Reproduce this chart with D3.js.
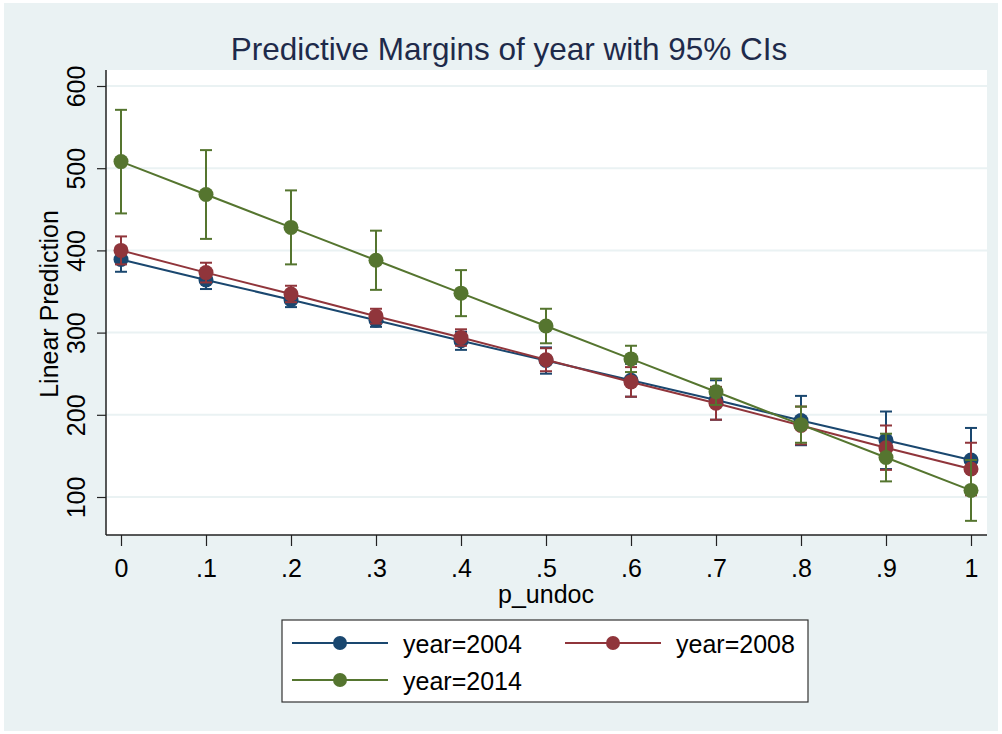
<!DOCTYPE html>
<html>
<head>
<meta charset="utf-8">
<script src="https://cdn.jsdelivr.net/npm/d3@7"></script>
<style>
  body { margin: 0; background: #fff; }
  svg text { font-family: "Liberation Sans", Arial, sans-serif; fill: #000; }
</style>
</head>
<body>
<svg id="chart" width="1002" height="734"></svg>
<script>
// data
const pUndoc = [0, 0.1, 0.2, 0.3, 0.4, 0.5, 0.6, 0.7, 0.8, 0.9, 1];
const xTickLabels = ["0", ".1", ".2", ".3", ".4", ".5", ".6", ".7", ".8", ".9", "1"];
const yTicks = [100, 200, 300, 400, 500, 600];

const years = ["year=2004", "year=2008", "year=2014"];
const margin2004 = [389, 364, 340, 315, 290, 266, 242, 218, 193, 169, 145];
const half2004   = [15, 11, 9, 8, 11, 16, 20, 24, 30, 35, 39];
const margin2008 = [400, 373, 347, 320, 294, 267, 240, 214, 187, 160, 134];
const half2008   = [17, 12, 10, 9, 10, 14, 18, 20, 23, 27, 32];
const margin2014 = [508, 468, 428, 388, 348, 308, 268, 228, 188, 148, 108];
const half2014   = [63, 54, 45, 36, 28, 21, 16, 16, 22, 29, 37];

const colors = ["#1a476f", "#90353b", "#55752f"];

const series = [
    { name: years[0], mid: margin2004, half: half2004, color: colors[0] },
    { name: years[1], mid: margin2008, half: half2008, color: colors[1] },
    { name: years[2], mid: margin2014, half: half2014, color: colors[2] }
];

const svg = d3.select("#chart");

// background
svg.append("rect").attr("x", 4).attr("y", 3).attr("width", 994).attr("height", 728).attr("fill", "#eaf2f3");

const plot = { left: 106, right: 987, top: 70, bottom: 535 };
svg.append("rect")
    .attr("x", plot.left).attr("y", plot.top)
    .attr("width", plot.right - plot.left).attr("height", plot.bottom - plot.top)
    .attr("fill", "#fff");

const x = d3.scaleLinear().domain([0, 1]).range([121, 971]);
const y = d3.scaleLinear().domain([100, 600]).range([497, 86]);

// gridlines
svg.append("g").selectAll("line").data(yTicks).enter().append("line")
    .attr("x1", plot.left).attr("x2", plot.right)
    .attr("y1", d => y(d)).attr("y2", d => y(d))
    .attr("stroke", "#eaf2f3").attr("stroke-width", 2);

// y axis
const yAxis = svg.append("g")
    .attr("transform", `translate(${plot.left},0)`)
    .call(d3.axisLeft(y).tickValues(yTicks).tickSize(9).tickPadding(0).tickFormat(d3.format("d")));
yAxis.select(".domain").attr("d", `M0,${plot.top}V${plot.bottom}`).attr("stroke", "#222").attr("stroke-width", 1.5);
yAxis.selectAll(".tick line").attr("stroke", "#222").attr("stroke-width", 1.2);
yAxis.selectAll(".tick text")
    .attr("x", 0).attr("y", 0).attr("dy", null)
    .attr("text-anchor", "middle")
    .attr("transform", "translate(-21,0) rotate(-90)")
    .style("font-size", "25px");

// x axis
const xAxis = svg.append("g")
    .attr("transform", `translate(0,${plot.bottom})`)
    .call(d3.axisBottom(x).tickValues(pUndoc).tickSize(11).tickPadding(0).tickFormat((d, i) => xTickLabels[i]));
xAxis.select(".domain").attr("d", `M${plot.left},0H${plot.right}`).attr("stroke", "#222").attr("stroke-width", 1.5);
xAxis.selectAll(".tick line").attr("stroke", "#222").attr("stroke-width", 1.2);
xAxis.selectAll(".tick text").attr("y", 42).attr("dy", null).style("font-size", "25px");

// titles
svg.append("text").attr("x", 509).attr("y", 60).attr("text-anchor", "middle")
    .style("font-size", "31.5px").style("fill", "#1e2a4a")
    .text("Predictive Margins of year with 95% CIs");
svg.append("text").attr("transform", "translate(58,304) rotate(-90)").attr("text-anchor", "middle")
    .style("font-size", "25px").text("Linear Prediction");
svg.append("text").attr("x", 546).attr("y", 603).attr("text-anchor", "middle")
    .style("font-size", "25px").text("p_undoc");

// series
const line = d3.line().x((d, i) => x(pUndoc[i])).y(d => y(d));
series.forEach(s => {
    const g = svg.append("g");
    // error bars
    const bars = g.selectAll(".ci").data(s.mid).enter().append("g");
    bars.append("line")
        .attr("x1", (d, i) => x(pUndoc[i])).attr("x2", (d, i) => x(pUndoc[i]))
        .attr("y1", (d, i) => y(d + s.half[i])).attr("y2", (d, i) => y(d - s.half[i]))
        .attr("stroke", s.color).attr("stroke-width", 2);
    [1, -1].forEach(sign => {
        bars.append("line")
            .attr("x1", (d, i) => x(pUndoc[i]) - 6).attr("x2", (d, i) => x(pUndoc[i]) + 6)
            .attr("y1", (d, i) => y(d + sign * s.half[i])).attr("y2", (d, i) => y(d + sign * s.half[i]))
            .attr("stroke", s.color).attr("stroke-width", 2);
    });
    g.append("path").datum(s.mid).attr("d", line)
        .attr("fill", "none").attr("stroke", s.color).attr("stroke-width", 2);
    g.selectAll("circle").data(s.mid).enter().append("circle")
        .attr("cx", (d, i) => x(pUndoc[i])).attr("cy", d => y(d)).attr("r", 7.5)
        .attr("fill", s.color);
});

// legend
const legend = svg.append("g");
legend.append("rect").attr("x", 282).attr("y", 620).attr("width", 526).attr("height", 82)
    .attr("fill", "#fff").attr("stroke", "#333").attr("stroke-width", 1.2);
const legPos = [
    { lx: 292, ly: 643 },
    { lx: 565, ly: 643 },
    { lx: 292, ly: 680 }
];
series.forEach((s, i) => {
    const p = legPos[i];
    legend.append("line").attr("x1", p.lx).attr("x2", p.lx + 96)
        .attr("y1", p.ly).attr("y2", p.ly).attr("stroke", s.color).attr("stroke-width", 2);
    legend.append("circle").attr("cx", p.lx + 48).attr("cy", p.ly).attr("r", 7).attr("fill", s.color);
    legend.append("text").attr("x", p.lx + 111).attr("y", p.ly + 10)
        .style("font-size", "25px").text(s.name);
});
</script>
</body>
</html>
